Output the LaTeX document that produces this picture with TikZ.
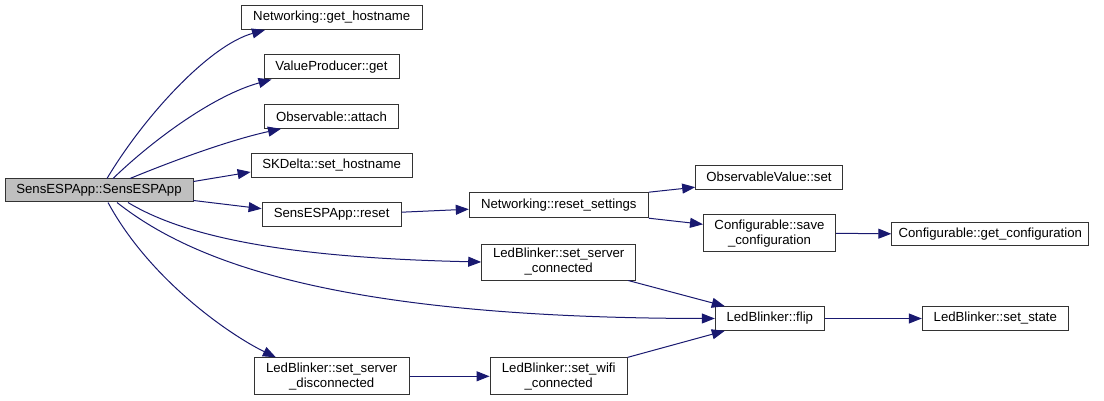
\documentclass[tikz,border=0pt]{standalone}
\usepackage{fontspec}
\setmainfont{Liberation Sans}
\usetikzlibrary{arrows.meta}
\definecolor{edgec}{HTML}{191970}
\definecolor{boxc}{HTML}{333333}
\definecolor{mainfill}{HTML}{BFBFBF}
\begin{document}
\begin{tikzpicture}[x=1pt,y=-1pt,
  fn/.style={draw=boxc,line width=1pt,fill=white,inner sep=0pt,align=center,
    font=\fontsize{13.2}{15}\selectfont,text=black},
  call/.style={draw=edgec,line width=1pt,-{Triangle[length=13pt,width=10pt]}}]
\useasboundingbox (0,0) rectangle (1104,401);
\fill[white] (0,0) rectangle (1104,401);

\node[fn,fill=mainfill,minimum width=188pt,minimum height=23pt] (main) at (99,190.5) {SensESPApp::SensESPApp};
\node[fn,minimum width=180.5pt,minimum height=24pt] (gethost) at (331.75,17.5) {Networking::get\_hostname};
\node[fn,minimum width=135pt,minimum height=24pt] (vpget) at (331.5,67) {ValueProducer::get};
\node[fn,minimum width=134pt,minimum height=24pt] (attach) at (331.5,116.3) {Observable::attach};
\node[fn,minimum width=161pt,minimum height=24pt] (skdelta) at (331.6,165.5) {SKDelta::set\_hostname};
\node[fn,minimum width=139pt,minimum height=24pt] (reset) at (331.6,214.7) {SensESPApp::reset};
\node[fn,minimum width=179pt,minimum height=25pt] (rs) at (558.8,205.2) {Networking::reset\_settings};
\node[fn,minimum width=146.6pt,minimum height=24pt] (ovs) at (769,177.2) {ObservableValue::set};
\node[fn,minimum width=132pt,minimum height=37pt] (save) at (769.5,233.3) {Configurable::save\\\_configuration};
\node[fn,minimum width=197pt,minimum height=23pt] (getconf) at (990.3,233.8) {Configurable::get\_configuration};
\node[fn,minimum width=154pt,minimum height=36pt] (ssc) at (558.7,262) {LedBlinker::set\_server\\\_connected};
\node[fn,minimum width=109pt,minimum height=23.6pt] (flip) at (769.8,318.5) {LedBlinker::flip};
\node[fn,minimum width=146pt,minimum height=23.5pt] (state) at (995.3,318.5) {LedBlinker::set\_state};
\node[fn,minimum width=154.7pt,minimum height=37pt] (ssd) at (331.7,376.3) {LedBlinker::set\_server\\\_disconnected};
\node[fn,minimum width=137.3pt,minimum height=37pt] (wifi) at (558.7,376.3) {LedBlinker::set\_wifi\\\_connected};

% from SensESPApp::SensESPApp
\draw[call] ([xshift=8pt]main.north) .. controls (145,115) and (210,45) .. ([xshift=24pt]gethost.south west);
\draw[call] ([xshift=14pt]main.north) .. controls (155,138) and (215,95) .. ([xshift=8pt]vpget.south west);
\draw[call] ([xshift=31pt]main.north) .. controls (175,160) and (230,140) .. ([xshift=17pt]attach.south west);
\draw[call] ([yshift=9pt]main.east) -- ([yshift=-6.5pt]skdelta.west);
\draw[call] ([yshift=-10pt]main.east) -- ([yshift=6pt]reset.west);
\draw[call] ([xshift=29pt]main.south) .. controls (190,240) and (300,258) .. (ssc.west);
\draw[call] ([xshift=18pt]main.south) .. controls (190,260) and (330,318) .. (flip.west);
\draw[call] ([xshift=9pt]main.south) .. controls (150,280) and (230,335) .. ([xshift=22pt]ssd.north west);

% others
\draw[call] ([yshift=2.5pt]reset.east) -- ([yshift=-4pt]rs.west);
\draw[call] (rs.north east) -- ([yshift=-10pt]ovs.west);
\draw[call] (rs.south east) -- ([yshift=9pt]save.west);
\draw[call] (save.east) -- (getconf.west);
\draw[call] ([xshift=-8pt]ssc.south east) -- ([xshift=10pt]flip.north west);
\draw[call] (flip.east) -- (state.west);
\draw[call] (ssd.east) -- (wifi.west);
\draw[call] (wifi.north east) -- ([xshift=10pt]flip.south west);
\end{tikzpicture}
\end{document}
